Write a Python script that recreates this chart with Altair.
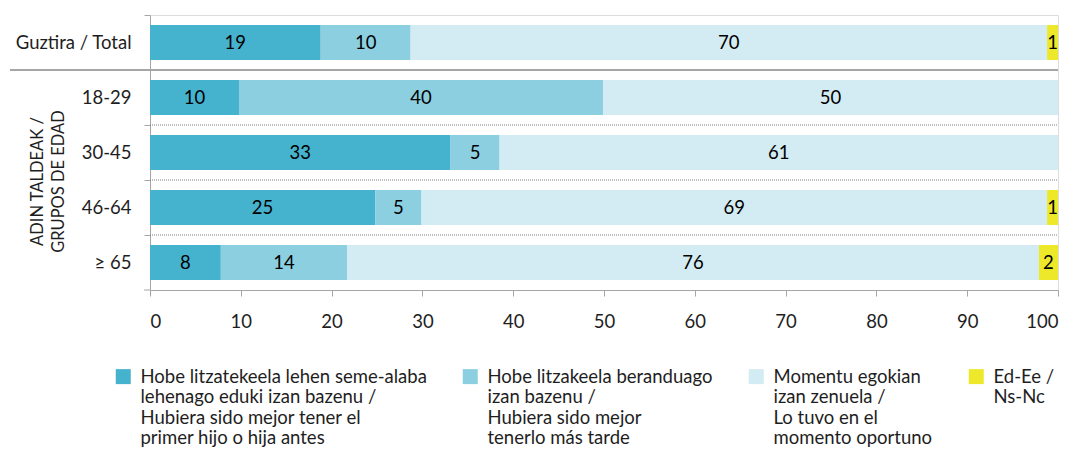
import altair as alt
import pandas as pd

rows = ["Guztira / Total", "18-29", "30-45", "46-64", "≥ 65"]
series = [
    "Hobe litzatekeela lehen seme-alaba|lehenago eduki izan bazenu /|Hubiera sido mejor tener el|primer hijo o hija antes",
    "Hobe litzakeela beranduago|izan bazenu /|Hubiera sido mejor|tenerlo más tarde",
    "Momentu egokian|izan zenuela /|Lo tuvo en el|momento oportuno",
    "Ed-Ee /|Ns-Nc| | ",
]
colors = ["#45B3CE", "#8BCFE0", "#D3EBF3", "#EDE82A"]

# bar lengths (estimated) and the printed labels
v_sooner = [18.8, 9.8, 33.1, 24.8, 7.8]
v_later = [9.9, 40.1, 5.4, 5.1, 13.9]
v_right = [70.1, 50.1, 61.5, 68.9, 76.2]
v_nsnc = [1.2, 0.0, 0.0, 1.2, 2.1]
l_sooner = [19, 10, 33, 25, 8]
l_later = [10, 40, 5, 5, 14]
l_right = [70, 50, 61, 69, 76]
l_nsnc = [1, None, None, 1, 2]

values = [v_sooner, v_later, v_right, v_nsnc]
labels = [l_sooner, l_later, l_right, l_nsnc]

recs = []
for si, s in enumerate(series):
    for ri, r in enumerate(rows):
        recs.append({"row": r, "series": s, "order": si,
                     "value": values[si][ri], "label": labels[si][ri]})
df = pd.DataFrame(recs)

sep_solid = pd.DataFrame({"row": ["18-29"]})
sep_dot = pd.DataFrame({"row": ["30-45", "46-64", "≥ 65"]})
bottom_tick = pd.DataFrame({"row": ["≥ 65"]})

FONT = "Lato"
FS = 18.5
TXT = "#1E1E1E"
GRAY = "#A6A6A6"

yscale = alt.Scale(domain=rows, paddingInner=0, paddingOuter=0)
xscale = alt.Scale(domain=[0, 100], nice=False)

bars = alt.Chart(df).mark_bar(size=35).encode(
    y=alt.Y("row:N", sort=rows, scale=yscale,
            axis=alt.Axis(title=["ADIN TALDEAK /", "GRUPOS DE EDAD"],
                          titleX=-113, titleY=166, titleAngle=-90,
                          titleAlign="center", titleBaseline="middle",
                          titleFontSize=16.5, titleFontWeight="normal",
                          titleLineHeight=21, titleColor=TXT, titleFont=FONT,
                          bandPosition=0,
                          tickSize=6, tickColor=GRAY, domainColor=GRAY,
                          labelFontSize=FS, labelPadding=13, labelColor=TXT,
                          labelFont=FONT)),
    x=alt.X("value:Q", stack="zero", scale=xscale,
            axis=alt.Axis(title=None, values=list(range(0, 101, 10)),
                          tickSize=6, tickColor=GRAY, domainColor=GRAY,
                          labelFontSize=FS, labelPadding=16, labelColor=TXT,
                          labelFont=FONT, grid=False)),
    color=alt.Color("series:N", scale=alt.Scale(domain=series, range=colors),
                    legend=alt.Legend(title=None, orient="none", legendX=-36,
                                      legendY=352, direction="horizontal",
                                      columns=4, symbolType="square",
                                      symbolSize=225, symbolStrokeWidth=0,
                                      symbolOpacity=1,
                                      labelFontSize=FS, labelLimit=500,
                                      labelExpr="split(datum.label, '|')",
                                      labelBaseline="middle",
                                      labelColor=TXT, labelFont=FONT,
                                      columnPadding=34, labelOffset=8,
                                      padding=0)),
    order=alt.Order("order:Q"),
)

texts = alt.Chart(df).transform_stack(
    stack="value", groupby=["row"], as_=["x0", "x1"],
    sort=[alt.SortField("order", order="ascending")]
).transform_calculate(
    mid="(datum.x0 + datum.x1) / 2"
).transform_filter(
    "isValid(datum.label)"
).mark_text(fontSize=FS, color="#000000", font=FONT).encode(
    y=alt.Y("row:N", sort=rows, scale=yscale),
    x=alt.X("mid:Q", scale=xscale),
    text=alt.Text("label:Q", format="d"),
)

solid = alt.Chart(sep_solid).mark_rule(color=GRAY, strokeWidth=2).encode(
    y=alt.Y("row:N", scale=yscale, bandPosition=0),
    x=alt.value(-140), x2=alt.value(908),
)

dotted = alt.Chart(sep_dot).mark_rule(color="#808080", strokeWidth=1,
                                      strokeDash=[1, 1]).encode(
    y=alt.Y("row:N", scale=yscale, bandPosition=0),
    x=alt.value(0), x2=alt.value(908),
)

btick = alt.Chart(bottom_tick).mark_rule(color=GRAY, strokeWidth=1).encode(
    y=alt.Y("row:N", scale=yscale, bandPosition=1),
    x=alt.value(-6), x2=alt.value(0),
)

chart = alt.layer(bars, texts, dotted, solid, btick).properties(
    width=908, height=275,
    autosize=alt.AutoSizeParams(type="none"),
    padding={"left": 142, "top": 7, "right": 11, "bottom": 161},
).configure_view(stroke=None).configure(font=FONT)

chart.save("out.html", embed_options={"renderer": "svg", "actions": False})
